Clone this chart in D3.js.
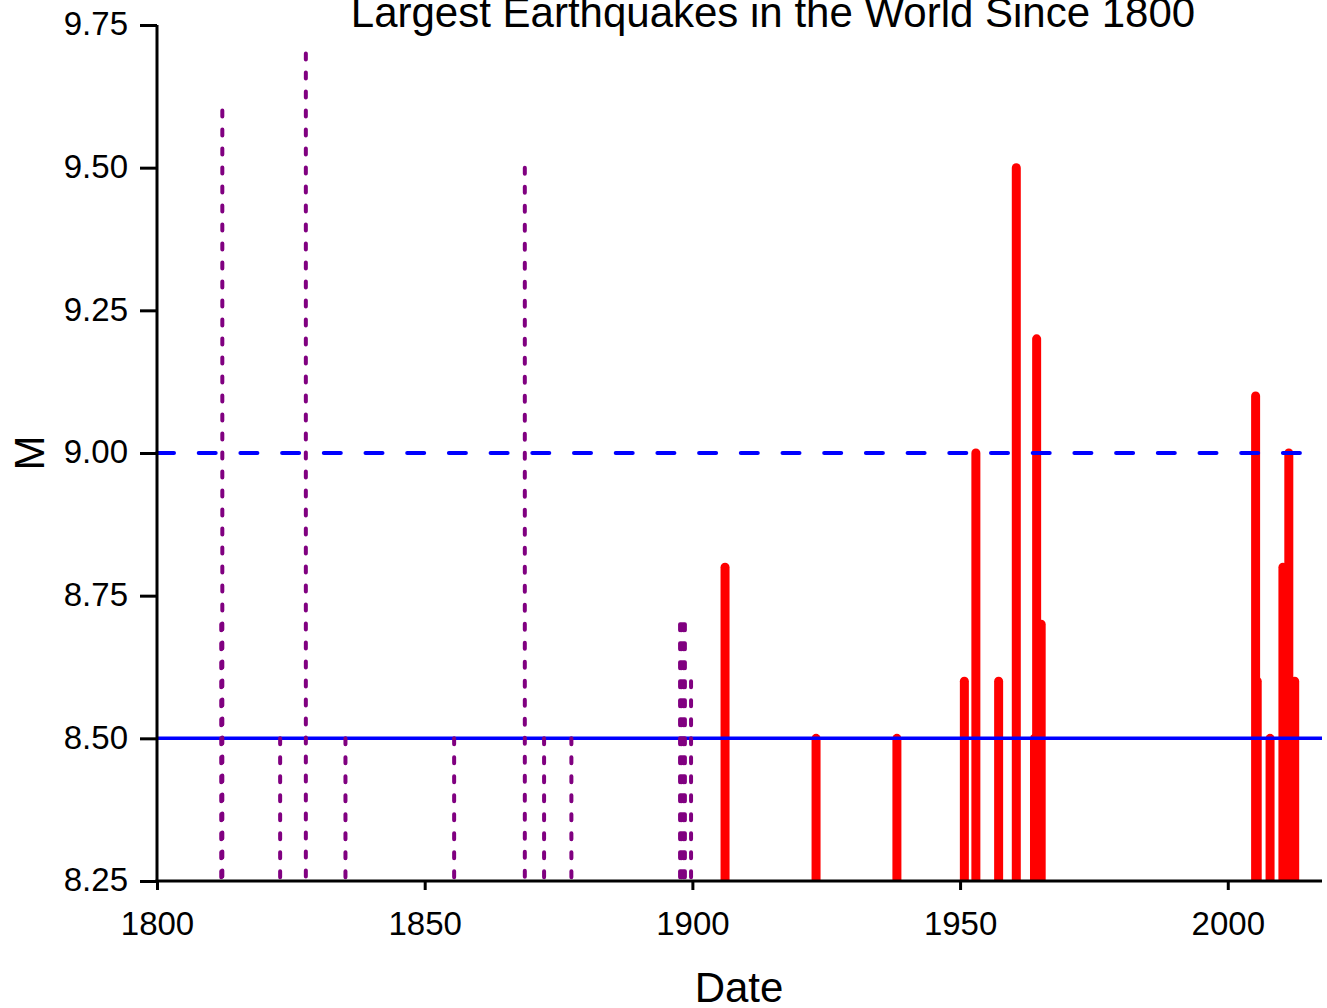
<!DOCTYPE html>
<html>
<head>
<meta charset="utf-8">
<script src="https://cdn.jsdelivr.net/npm/d3@7"></script>
<style>
  body { margin: 0; background: #fff; }
  text { font-family: "Liberation Sans", Arial, sans-serif; fill: #000; }
</style>
</head>
<body>
<script>
// historic events (before instrumental record), drawn dotted
var histYears = [1812.0, 1812.2, 1823.0, 1827.8, 1835.2, 1855.5, 1868.7, 1872.3, 1877.4,
                 1897.7, 1898.0, 1898.3, 1898.6, 1899.75];
var histMags  = [8.7, 9.6, 8.5, 9.7, 8.5, 8.5, 9.5, 8.5, 8.5,
                 8.7, 8.7, 8.7, 8.7, 8.6];

// instrumental events, drawn solid
var instYears = [1906.1, 1923.1, 1938.2, 1950.8, 1952.95, 1957.2, 1960.5, 1963.9, 1964.3, 1965.15,
                 2005.2, 2005.5, 2007.9, 2010.3, 2011.4, 2012.5];
var instMags  = [8.8, 8.5, 8.5, 8.6, 9.0, 8.6, 9.5, 8.5, 9.2, 8.7,
                 9.1, 8.6, 8.5, 8.8, 9.0, 8.6];

var yTicks = [8.25, 8.5, 8.75, 9.0, 9.25, 9.5, 9.75];
var xTicks = [1800, 1850, 1900, 1950, 2000];
var refLines = [8.5, 9.0];   // solid, dashed

var outerWidth = 1327, outerHeight = 1008;
var margin = { top: 25, right: 5, bottom: 127, left: 157 };
var width = outerWidth - margin.left - margin.right,
  height = outerHeight - margin.top - margin.bottom;

var x = d3.scaleLinear().domain([1800, 2017.6]).range([0, width]);
var y = d3.scaleLinear().domain([8.25, 9.75]).range([height, 0]);

var svg = d3.select("body").append("svg")
  .attr("width", outerWidth)
  .attr("height", outerHeight);

svg.append("defs").append("clipPath").attr("id", "plotclip")
  .append("rect")
  .attr("x", -10).attr("y", -40)
  .attr("width", width + 20).attr("height", height + 40);

var g = svg.append("g")
  .attr("transform", "translate(" + margin.left + "," + margin.top + ")");

var plot = g.append("g").attr("clip-path", "url(#plotclip)");

// red solid bars
plot.selectAll(".inst")
  .data(d3.range(instYears.length))
  .enter().append("line")
  .attr("class", "inst")
  .attr("x1", function (i) { return x(instYears[i]); })
  .attr("x2", function (i) { return x(instYears[i]); })
  .attr("y1", y(8.25) + 6)
  .attr("y2", function (i) { return y(instMags[i]); })
  .style("stroke", "#ff0000")
  .style("stroke-width", 9)
  .style("stroke-linecap", "round");

// blue reference lines
plot.selectAll(".ref")
  .data(refLines)
  .enter().append("line")
  .attr("class", "ref")
  .attr("x1", 0).attr("x2", width)
  .attr("y1", function (d) { return y(d); })
  .attr("y2", function (d) { return y(d); })
  .style("stroke", "#0000ff")
  .style("stroke-width", function (d, i) { return i === 0 ? 3.5 : 4; })
  .style("stroke-linecap", function (d, i) { return i === 0 ? "butt" : "round"; })
  .style("stroke-dasharray", function (d, i) { return i === 0 ? null : "17,24.7"; });

// purple dotted bars
plot.selectAll(".hist")
  .data(d3.range(histYears.length))
  .enter().append("line")
  .attr("class", "hist")
  .attr("x1", function (i) { return x(histYears[i]); })
  .attr("x2", function (i) { return x(histYears[i]); })
  .attr("y1", function (i) { return y(histMags[i]); })
  .attr("y2", y(8.25))
  .style("stroke", "#800080")
  .style("stroke-width", 4)
  .style("stroke-linecap", "round")
  .style("stroke-dasharray", "6,13");

// axes
var yAxis = d3.axisLeft(y).tickValues(yTicks).tickFormat(d3.format(".2f"))
  .tickSize(17).tickPadding(12);
var xAxis = d3.axisBottom(x).tickValues(xTicks).tickFormat(d3.format("d"))
  .tickSize(9).tickPadding(22);

var ya = g.append("g").call(yAxis);
var xa = g.append("g").attr("transform", "translate(0," + height + ")").call(xAxis);

[ya, xa].forEach(function (a) {
  a.select(".domain").remove();
  a.selectAll(".tick line").style("stroke", "#000").style("stroke-width", 3);
  a.selectAll(".tick text").style("font-size", "33px")
    .style("font-family", "'Liberation Sans', Arial, sans-serif");
});
ya.selectAll(".tick text").attr("dy", "0.3em");

g.append("line").attr("x1", 0).attr("x2", 0).attr("y1", 0).attr("y2", height)
  .style("stroke", "#000").style("stroke-width", 3);
g.append("line").attr("x1", -1.5).attr("x2", width).attr("y1", height).attr("y2", height)
  .style("stroke", "#000").style("stroke-width", 3);

// labels
svg.append("text")
  .attr("x", 773).attr("y", 27)
  .attr("text-anchor", "middle")
  .style("font-size", "42px")
  .text("Largest Earthquakes in the World Since 1800");

svg.append("text")
  .attr("x", 739).attr("y", 1002)
  .attr("text-anchor", "middle")
  .style("font-size", "42px")
  .text("Date");

svg.append("text")
  .attr("transform", "translate(44,453) rotate(-90)")
  .attr("text-anchor", "middle")
  .style("font-size", "42px")
  .text("M");
</script>
</body>
</html>
